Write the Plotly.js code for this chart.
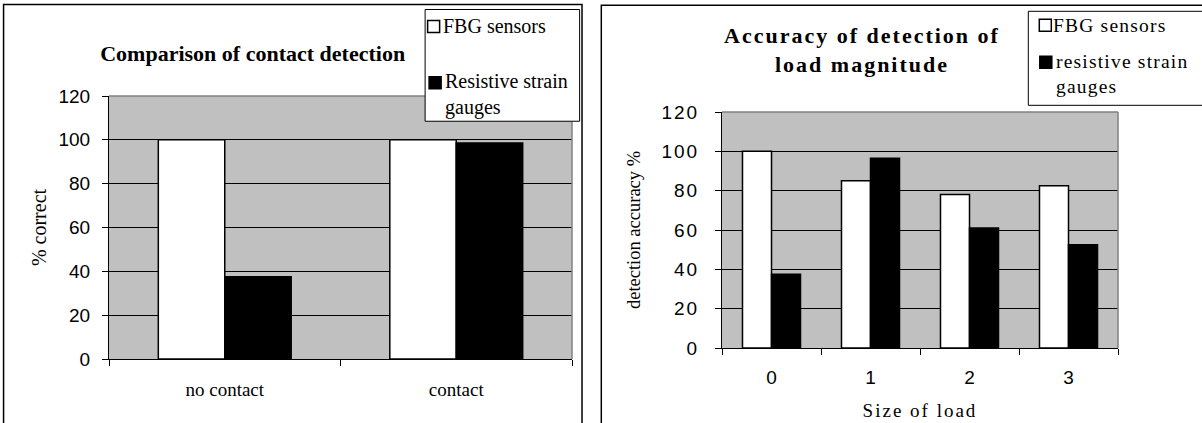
<!DOCTYPE html>
<html><head><meta charset="utf-8">
<script src="https://cdn.plot.ly/plotly-3.0.1.min.js"></script>
<style>
html,body{margin:0;padding:0;background:#fff;}
#c1{position:absolute;left:0;top:0;width:596px;height:423px;}
#c2{position:absolute;left:596px;top:0;width:606px;height:423px;}
#c2 .gtitle, #c2 .xtitle, #c2 .ytick text {letter-spacing:2px;}
#c2 .annotation-text {letter-spacing:1.2px;}
</style></head><body>
<div id="c1"></div><div id="c2"></div>
<script>
// ---- data ----
const contactCategories = ['no contact', 'contact'];
const contactFBG = [100, 100];
const contactResistive = [37.5, 98.5];
const contactSeriesNames = ['FBG sensors', 'Resistive strain gauges'];
const contactTitle = 'Comparison of contact detection';
const contactYTitle = '% correct';

const loadCategories = ['0', '1', '2', '3'];
const loadFBG = [100, 85, 78, 82.5];
const loadResistive = [37.5, 96.5, 61, 52.5];
const loadSeriesNames = ['FBG sensors', 'resistive strain gauges'];
const loadTitle = 'Accuracy of detection of<br>load magnitude';
const loadYTitle = 'detection accuracy %';
const loadXTitle = 'Size of load';

const yTickVals = [0, 20, 40, 60, 80, 100, 120];

// ---- styles ----
const SERIF = 'Liberation Serif, Times New Roman, serif';
const SANS = 'Liberation Sans, Arial, sans-serif';
const seriesFill = ['#ffffff', '#000000'];

function wrapName(n) { const i = n.lastIndexOf(' '); return n.slice(0, i) + '<br>' + n.slice(i + 1); }

function build(el, o) {
  const W = o.W, H = o.H, m = o.m;
  const pw = W - m.l - m.r, ph = H - m.t - m.b;
  const X = px => (px - m.l) / pw;
  const Y = py => (H - m.b - py) / ph;
  const traces = [o.s1, o.s2].map((vals, i) => ({
    type: 'bar', x: o.cats, y: vals, name: o.names[i],
    marker: {color: seriesFill[i], line: {color: '#000', width: 1.5}},
    hoverinfo: 'x+y+name'
  }));
  const shapes = [
    {type: 'rect', xref: 'paper', yref: 'paper', x0: X(o.border[0]), x1: X(o.border[2]), y0: Y(o.border[3]), y1: Y(o.border[1]),
     line: {color: '#000', width: 1.5}, layer: 'above'},
    {type: 'line', xref: 'paper', yref: 'paper', x0: 0, x1: 1, y0: 1, y1: 1, line: {color: '#808080', width: 1.5}, layer: 'above'},
    {type: 'line', xref: 'paper', yref: 'paper', x0: 1, x1: 1, y0: 0, y1: 1, line: {color: '#808080', width: 1.5}, layer: 'above'},
    {type: 'rect', xref: 'paper', yref: 'paper', x0: X(o.leg[0]), x1: X(o.leg[2]), y0: Y(o.leg[3]), y1: Y(o.leg[1]),
     fillcolor: '#fff', line: {color: '#000', width: 1}, layer: 'above'}
  ];
  const annotations = [];
  o.legItems.forEach((it, i) => {
    shapes.push({type: 'rect', xref: 'paper', yref: 'paper', x0: X(it.sx), x1: X(it.sx + 12), y0: Y(it.sy + 6), y1: Y(it.sy - 6),
      fillcolor: seriesFill[i], line: {color: '#000', width: 1.5}, layer: 'above'});
    annotations.push({xref: 'paper', yref: 'paper', x: X(it.tx), y: Y(it.ty), xanchor: 'left', yanchor: 'middle',
      text: i === 1 ? wrapName(o.names[i]) : o.names[i], showarrow: false, align: 'left',
      font: {family: SERIF, size: o.legSize, color: '#000'}});
  });
  const layout = {
    width: W, height: H, margin: {l: m.l, r: m.r, t: m.t, b: m.b, pad: 0},
    paper_bgcolor: '#fff', plot_bgcolor: '#c0c0c0',
    barmode: 'group', bargap: o.bargap, bargroupgap: 0, showlegend: false,
    font: {family: SERIF, color: '#000'},
    title: {text: o.title, font: {family: SERIF, size: 22, weight: 'bold', color: '#000'},
      xref: 'container', x: o.titleX / W, xanchor: 'center', yref: 'container', y: 1 - o.titleY / H, yanchor: 'middle'},
    xaxis: {type: 'category', showline: true, linecolor: '#000', linewidth: 1, ticks: 'outside', ticklen: 6,
      tickcolor: '#000', tickwidth: 1, tickson: 'boundaries', showgrid: false, fixedrange: true,
      tickfont: {family: o.xTickFont, size: 19, color: '#000'}, ticklabelstandoff: o.xStandoff,
      title: {text: o.xTitle || '', font: {family: SERIF, size: 19, color: '#000'}, standoff: 16}},
    yaxis: {range: [0, 120], tickvals: yTickVals, showline: true, linecolor: '#000', linewidth: 1, ticks: 'outside',
      ticklen: 6, tickcolor: '#000', showgrid: true, gridcolor: '#000', gridwidth: 1, zeroline: false, fixedrange: true,
      tickfont: {family: SANS, size: 19, color: '#000'}, ticklabelstandoff: o.yStandoff,
      title: {text: o.yTitle, font: {family: SERIF, size: o.yTitleSize, color: '#000'}, standoff: o.yTitleStandoff}},
    shapes: shapes, annotations: annotations
  };
  Plotly.newPlot(el, traces, layout, {displayModeBar: false, staticPlot: true});
}

build('c1', {
  W: 596, H: 423, m: {l: 109.3, r: 596 - 571.7, t: 95.7, b: 423 - 359.3},
  cats: contactCategories, s1: contactFBG, s2: contactResistive, names: contactSeriesNames,
  bargap: 0.426, title: contactTitle, titleX: 252.7, titleY: 53,
  xTickFont: SERIF, xStandoff: 13, yStandoff: 8, yTitle: contactYTitle, yTitleSize: 20, yTitleStandoff: 6,
  border: [4, 4, 581.7, 432], leg: [425, 9, 579.3, 121], legSize: 20,
  legItems: [{sx: 427.5, sy: 26, tx: 441, ty: 26}, {sx: 429, sy: 82.5, tx: 443, ty: 94}]
});

const o2 = 596;
build('c2', {
  W: 606, H: 423, m: {l: 721.7 - o2, r: 606 - (1117.7 - o2), t: 111.7, b: 423 - 347.7},
  cats: loadCategories, s1: loadFBG, s2: loadResistive, names: loadSeriesNames,
  bargap: 0.414, title: loadTitle, titleX: 862 - o2, titleY: 43,
  xTickFont: SANS, xStandoff: 12, yStandoff: 12, yTitle: loadYTitle, yTitleSize: 18.5, yTitleStandoff: 22,
  xTitle: loadXTitle,
  border: [601 - o2, 5, 1240 - o2, 432], leg: [1028 - o2, 11, 1240 - o2, 105], legSize: 19.5,
  legItems: [{sx: 1039 - o2, sy: 25, tx: 1051 - o2, ty: 25}, {sx: 1039.5 - o2, sy: 62, tx: 1054 - o2, ty: 74}]
});
</script>
</body></html>
